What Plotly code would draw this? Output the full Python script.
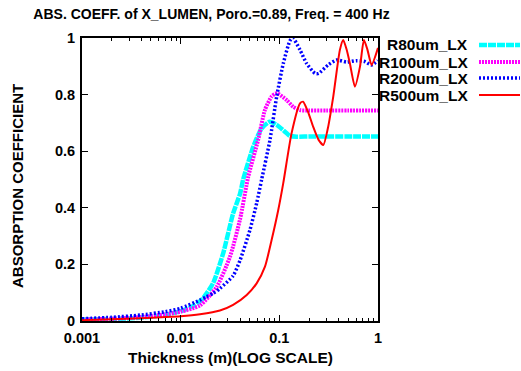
import plotly.graph_objects as go

# ---- data ----
r80_x = [0.001, 0.002, 0.004, 0.007, 0.01, 0.0115, 0.014, 0.017, 0.0214, 0.027, 0.034, 0.04, 0.043,
         0.0545, 0.066, 0.08, 0.094, 0.114, 0.128, 0.15, 0.2, 0.3, 0.5, 1.0]
r80_y = [0.005, 0.007, 0.012, 0.022, 0.035, 0.043, 0.056, 0.082, 0.135, 0.24, 0.38, 0.45, 0.5,
         0.616, 0.68, 0.704, 0.693, 0.669, 0.654, 0.651, 0.652, 0.652, 0.652, 0.652]

r100_x = [0.001, 0.002, 0.004, 0.007, 0.01, 0.0157, 0.0232, 0.0316, 0.04, 0.0484, 0.061, 0.0715,
          0.0835, 0.094, 0.119, 0.138, 0.162, 0.2, 0.3, 0.5, 1.0]
r100_y = [0.005, 0.008, 0.014, 0.024, 0.033, 0.055, 0.121, 0.227, 0.36, 0.51, 0.64, 0.746,
          0.793, 0.805, 0.78, 0.757, 0.745, 0.744, 0.744, 0.744, 0.744]

r200_x = [0.001, 0.002, 0.0039, 0.007, 0.01, 0.0157, 0.0183, 0.0214, 0.025, 0.034, 0.04, 0.0504,
          0.0589, 0.0662, 0.0804, 0.094, 0.1097, 0.128, 0.137, 0.162, 0.189, 0.23, 0.25, 0.313,
          0.38, 0.48, 0.6, 0.72, 0.86, 1.0]
r200_y = [0.008, 0.013, 0.021, 0.033, 0.045, 0.074, 0.086, 0.098, 0.115, 0.16, 0.215, 0.322,
          0.416, 0.5, 0.64, 0.793, 0.91, 0.99, 1.0, 0.958, 0.91, 0.875, 0.875, 0.905,
          0.922, 0.915, 0.92, 0.918, 0.905, 0.92]

r500_x = [0.001, 0.002, 0.0039, 0.007, 0.01, 0.0157, 0.025, 0.034, 0.0467, 0.0589, 0.0715, 0.0835,
          0.0975, 0.1096, 0.133, 0.162, 0.174, 0.195, 0.22, 0.25, 0.279, 0.31, 0.352, 0.411,
          0.444, 0.48, 0.519, 0.583, 0.656, 0.72, 0.78, 0.861, 1.0]
r500_y = [0.003, 0.006, 0.01, 0.014, 0.017, 0.024, 0.037, 0.057, 0.092, 0.133, 0.192, 0.286,
          0.392, 0.487, 0.663, 0.769, 0.775, 0.74, 0.687, 0.64, 0.622, 0.68, 0.793, 0.958,
          0.993, 0.96, 0.91, 0.828, 0.898, 0.993, 0.96, 0.905, 0.965]

names = ["R80um_LX", "R100um_LX", "R200um_LX", "R500um_LX"]
colors = ["#00ffff", "#ff00ff", "#0000ff", "#ff0000"]
widths = [4.5, 4, 3.5, 2]
dashes = ["8px,1px", "2px,1px", "2px,2px", "solid"]
series = [(r80_x, r80_y), (r100_x, r100_y), (r200_x, r200_y), (r500_x, r500_y)]

x_ticks = [0.001, 0.01, 0.1, 1]
x_tick_labels = ["0.001", "0.01", "0.1", "1"]
y_ticks = [0, 0.2, 0.4, 0.6, 0.8, 1]
y_tick_labels = ["0", "0.2", "0.4", "0.6", "0.8", "1"]

FONT = "Liberation Sans"

fig = go.Figure()
for (xs, ys), n, c, w, d in zip(series, names, colors, widths, dashes):
    fig.add_trace(go.Scatter(x=xs, y=ys, name=n, mode="lines",
                             line=dict(color=c, width=w, dash=d, shape="spline", smoothing=0.6),
                             showlegend=False))

W, H = 521, 371
L, R, T, B = 82, 143, 38, 50
pw, ph = W - L - R, H - T - B

# manual legend (text right-aligned, sample on the right, like gnuplot)
leg_rows = [45, 62, 78, 95]
for n, c, w, d, py in zip(names, colors, widths, dashes, leg_rows):
    yp = (H - B - py) / ph
    fig.add_annotation(x=(470 - L) / pw, y=yp, xref="paper", yref="paper", text=n,
                       showarrow=False, xanchor="right", yanchor="middle",
                       font=dict(family=FONT, size=15.5, color="black", weight="bold"))
    fig.add_shape(type="line", xref="paper", yref="paper",
                  x0=(479 - L) / pw, x1=(520 - L) / pw, y0=yp, y1=yp,
                  line=dict(color=c, width=w, dash=d))

fig.add_annotation(x=(230 - L) / pw, y=(H - B - 357) / ph, xref="paper", yref="paper",
                   text="Thickness (m)(LOG SCALE)", showarrow=False,
                   xanchor="center", yanchor="middle",
                   font=dict(family=FONT, size=15.5, color="black", weight="bold"))
fig.add_annotation(x=(18 - L) / pw, y=(H - B - 186) / ph, xref="paper", yref="paper",
                   text="ABSORPTION COEFFICIENT", showarrow=False, textangle=-90,
                   xanchor="center", yanchor="middle",
                   font=dict(family=FONT, size=15, color="black", weight="bold"))

fig.update_layout(
    width=W, height=H,
    margin=dict(l=L, r=R, t=T, b=B, pad=0),
    paper_bgcolor="white", plot_bgcolor="white",
    font=dict(family=FONT, size=14, color="black", weight="bold"),
    title=dict(text="ABS. COEFF. of X_LUMEN, Poro.=0.89, Freq. = 400 Hz",
               x=211.5 / W, xref="container", xanchor="center",
               y=1 - 14 / H, yref="container", yanchor="middle",
               font=dict(family=FONT, size=14, color="black", weight="bold")),
    xaxis=dict(type="log", range=[-3, 0], tickvals=x_ticks, ticktext=x_tick_labels,
               showgrid=False, zeroline=False, showline=True, linecolor="black", linewidth=2,
               mirror="allticks", ticks="inside", ticklen=6, tickcolor="black", tickwidth=1,
               ticklabelstandoff=3,
               minor=dict(ticks="inside", ticklen=3, tickcolor="black", dtick="D1", showgrid=False),
               tickfont=dict(family=FONT, size=14.5, color="black", weight="bold")),
    yaxis=dict(range=[0, 1], tickvals=y_ticks, ticktext=y_tick_labels,
               showgrid=False, zeroline=False, showline=True, linecolor="black", linewidth=2,
               mirror="allticks", ticks="inside", ticklen=6, tickcolor="black", tickwidth=1,
               ticklabelstandoff=2,
               tickfont=dict(family=FONT, size=14.5, color="black", weight="bold")),
)

fig.write_html("out.html")
